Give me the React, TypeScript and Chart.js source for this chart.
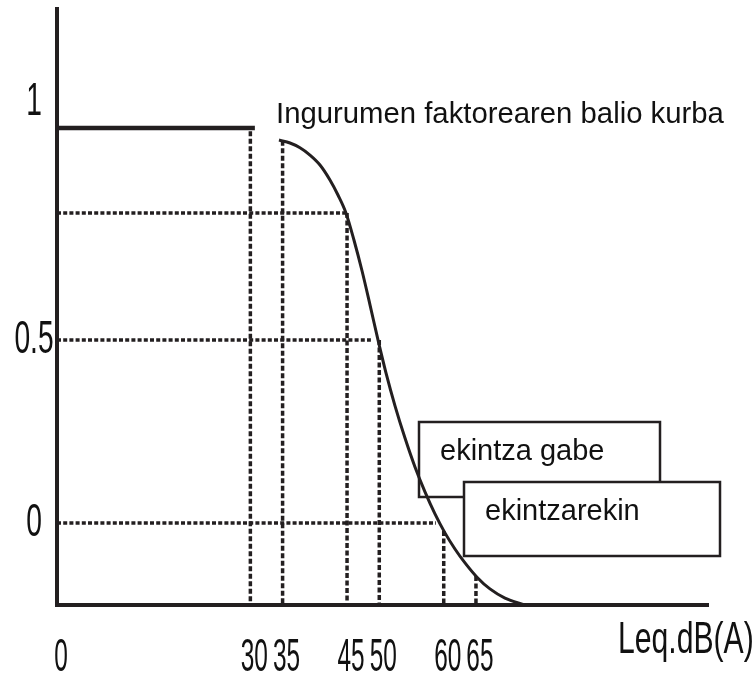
import React, { useEffect, useRef } from "react";
import { Chart, registerables } from "chart.js";

Chart.register(...registerables);

// ---- data ----
const dbTickValues = [0, 30, 35, 45, 50, 60, 65];
const dbTickLabels = ["0", "30", "35", "45", "50", "60", "65"];
const factorTickValues = [0, 0.5, 1.15];
const factorTickLabels = ["0", "0.5", "1"];

const plateauDb = [0, 30.7];
const plateauFactor = [1.079, 1.079];

const curveDb = [34.44, 36.15, 37.7, 39.25, 40.8, 42.35, 43.59, 44.83, 46.07, 47.32, 48.56, 49.8, 51.04, 52.44, 53.99, 55.54, 57.09, 58.64, 60.19, 61.74, 63.3, 65.16, 67.17, 69.5, 72.6];
const curveFactor = [1.046, 1.038, 1.025, 1.005, 0.978, 0.937, 0.896, 0.847, 0.773, 0.689, 0.596, 0.5, 0.41, 0.32, 0.232, 0.153, 0.085, 0.025, -0.027, -0.071, -0.109, -0.148, -0.18, -0.205, -0.224];

const guideDb = [30, 35, 45, 50, 60, 65];
const guideTop = [1.07, 1.044, 0.847, 0.5, -0.022, -0.145];
const levelFactor = [0.847, 0.5, 0];
const levelEndDb = [45, 48.7, 58.8];

const titleText = "Ingurumen faktorearen balio kurba";
const boxLabels = ["ekintza gabe", "ekintzarekin"];
const xAxisTitle = "Leq.dB(A)";

const X_MIN = 0;
const X_MAX = 101;
const Y_MIN = -0.224;
const Y_MAX = 1.404;

const INK = "#231f20";
const FONT = '"Liberation Sans", Arial, sans-serif';

function drawCondensed(ctx: CanvasRenderingContext2D, text: string, x: number, y: number, sx: number) {
  ctx.save();
  ctx.translate(x, y);
  ctx.scale(sx, 1);
  ctx.fillText(text, 0, 0);
  ctx.restore();
}

const sketchPlugin = {
  id: "sketchText",
  afterDraw(chart: any) {
    const { ctx, chartArea } = chart;
    const xs = chart.scales.x;
    const ys = chart.scales.y;
    ctx.save();
    ctx.fillStyle = "#111";

    // x tick labels (condensed)
    ctx.font = `47px ${FONT}`;
    ctx.textAlign = "center";
    ctx.textBaseline = "alphabetic";
    dbTickValues.forEach((v, i) => {
      drawCondensed(ctx, dbTickLabels[i], xs.getPixelForValue(v) + 4, chartArea.bottom + 66, 0.52);
    });
    // y tick labels
    factorTickValues.forEach((v, i) => {
      drawCondensed(ctx, factorTickLabels[i], chartArea.left - 23, ys.getPixelForValue(v) + 13, 0.6);
    });
    // x axis title
    ctx.textAlign = "left";
    ctx.font = `45px ${FONT}`;
    drawCondensed(ctx, xAxisTitle, chartArea.right - 90, chartArea.bottom + 48, 0.67);

    // curve title
    ctx.font = `29.3px ${FONT}`;
    ctx.fillText(titleText, 276, 123);

    // boxes
    ctx.strokeStyle = INK;
    ctx.lineWidth = 2.5;
    ctx.strokeRect(419, 422, 241, 75);
    ctx.fillStyle = "#fff";
    ctx.fillRect(464, 482, 256, 74);
    ctx.strokeRect(464, 482, 256, 74);
    ctx.fillStyle = "#111";
    ctx.font = `29px ${FONT}`;
    ctx.fillText(boxLabels[0], 440, 460);
    ctx.fillText(boxLabels[1], 485, 520);
    ctx.restore();
  },
};

export default function App() {
  const ref = useRef<HTMLCanvasElement | null>(null);

  useEffect(() => {
    if (!ref.current) return;
    const dotted = (data: { x: number; y: number }[], dash: number[]) => ({
      data,
      borderColor: INK,
      borderWidth: 3.5,
      borderDash: dash,
      pointRadius: 0,
      tension: 0,
      clip: false as any,
    });
    const datasets: any[] = [
      {
        label: "curve",
        data: curveDb.map((x, i) => ({ x, y: curveFactor[i] })),
        borderColor: INK,
        borderWidth: 3,
        pointRadius: 0,
        tension: 0.4,
        cubicInterpolationMode: "monotone",
        clip: false,
      },
      {
        label: "plateau",
        data: plateauDb.map((x, i) => ({ x, y: plateauFactor[i] })),
        borderColor: INK,
        borderWidth: 4.5,
        pointRadius: 0,
        tension: 0,
        clip: false,
      },
      ...guideDb.map((d, i) =>
        dotted(
          [
            { x: d, y: guideTop[i] },
            { x: d, y: Y_MIN },
          ],
          [5, 2.5]
        )
      ),
      ...levelFactor.map((f, i) =>
        dotted(
          [
            { x: X_MIN, y: f },
            { x: levelEndDb[i], y: f },
          ],
          [4, 2.2]
        )
      ),
    ];

    const chart = new Chart(ref.current, {
      type: "line",
      data: { datasets },
      options: {
        responsive: false,
        animation: false,
        devicePixelRatio: 1,
        layout: { padding: { left: 57, top: 9, right: 47, bottom: 70 } },
        plugins: { legend: { display: false }, tooltip: { enabled: false }, title: { display: false } },
        scales: {
          x: {
            type: "linear",
            min: X_MIN,
            max: X_MAX,
            grid: { display: false, drawTicks: false },
            border: { display: true, width: 4, color: INK },
            ticks: { display: false },
            afterFit: (s: any) => {
              s.height = 0;
            },
          },
          y: {
            type: "linear",
            min: Y_MIN,
            max: Y_MAX,
            grid: { display: false, drawTicks: false },
            border: { display: true, width: 4, color: INK },
            ticks: { display: false },
            afterFit: (s: any) => {
              s.width = 0;
            },
          },
        },
      },
      plugins: [sketchPlugin],
    });
    return () => chart.destroy();
  }, []);

  return (
    <div style={{ position: "absolute", left: 0, top: 0, width: 755, height: 675, background: "#fff" }}>
      <canvas ref={ref} width={755} height={675} style={{ display: "block" }} />
    </div>
  );
}
